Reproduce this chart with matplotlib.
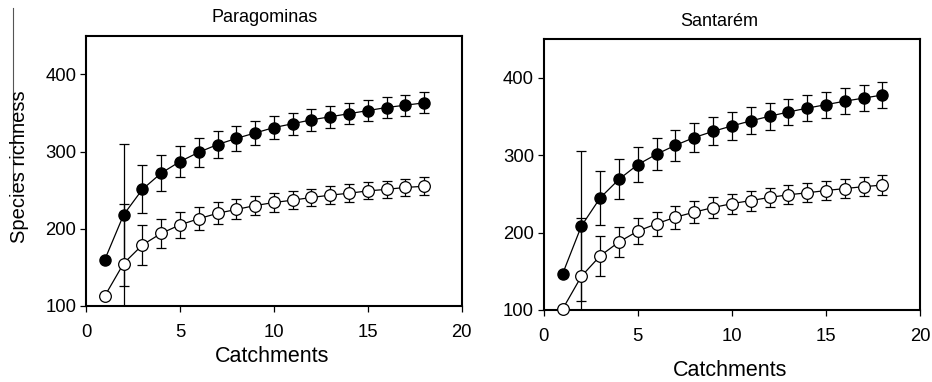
import matplotlib
matplotlib.use("Agg")
import matplotlib.pyplot as plt
from matplotlib.lines import Line2D

plt.rcParams['font.family'] = ['Liberation Sans', 'DejaVu Sans']

catchments = list(range(1, 19))

# Paragominas
par_filled = [160, 218, 251, 272, 287, 299, 309, 317, 324, 331, 336, 341, 345, 349, 353, 357, 360, 363]
par_filled_err = [0, 92, 31, 23, 20, 19, 17, 16.5, 15.5, 14.5, 14, 14, 14, 13.5, 13.5, 13, 13.5, 13.5]
par_open = [113, 155, 179, 194, 205, 213, 220, 225, 230, 234, 237, 240.5, 243.5, 246, 249, 251, 253.5, 255]
par_open_err = [0, 77, 26, 19, 17, 15, 14, 13, 12.5, 12, 12, 11.5, 11.5, 11.5, 11, 11, 11, 11.5]

# Santarém
san_filled = [146.5, 208.5, 245, 269, 288, 301.5, 313, 323, 331, 338, 344.5, 350.5, 356, 361, 365.5, 370, 374, 378]
san_filled_err = [0, 97, 35, 26, 22.5, 21, 20, 19, 18, 18.5, 17.5, 17.5, 17, 17, 17, 17, 17, 17]
san_open = [101, 143.5, 170, 188, 202, 211.5, 220, 226.5, 232.5, 237.5, 241.5, 245.5, 249, 251.5, 254.5, 257, 259.5, 261.5]
san_open_err = [0, 76, 26, 19.5, 17, 15.7, 15, 14.4, 13.8, 13, 13, 12.5, 12.5, 12.5, 12.3, 12.3, 12.5, 12.5]

x_ticks = [0, 5, 10, 15, 20]
y_ticks = [100, 200, 300, 400]

fig = plt.figure(figsize=(9.32, 3.82), dpi=100)
ax1 = fig.add_axes([0.0923, 0.199, 0.4031, 0.7076])
ax2 = fig.add_axes([0.5834, 0.1885, 0.4038, 0.7086])


def draw_panel(ax, filled, filled_err, opened, opened_err):
    for vals, errs in ((filled, filled_err), (opened, opened_err)):
        xs = [c for c, e in zip(catchments, errs) if e > 0]
        ys = [v for v, e in zip(vals, errs) if e > 0]
        es = [e for e in errs if e > 0]
        ax.errorbar(xs, ys, yerr=es, fmt='none', ecolor='black',
                    elinewidth=0.9, capsize=3.8, capthick=0.9, zorder=2)
    ax.plot(catchments, filled, '-o', color='black', lw=0.9,
            markersize=8, markerfacecolor='black', markeredgecolor='black',
            zorder=3, clip_on=False)
    ax.plot(catchments, opened, '-o', color='black', lw=0.9,
            markersize=8.4, markerfacecolor='white', markeredgecolor='black',
            markeredgewidth=0.9, zorder=3, clip_on=False)
    ax.set_xlim(0, 20)
    ax.set_ylim(100, 450)
    ax.set_xticks(x_ticks)
    ax.set_yticks(y_ticks)
    ax.tick_params(direction='out', length=4, width=0.9, labelsize=13.3)
    ax.tick_params(axis='x', pad=9)
    ax.tick_params(axis='y', pad=3)
    for sp in ax.spines.values():
        sp.set_linewidth(1.5)


draw_panel(ax1, par_filled, par_filled_err, par_open, par_open_err)
draw_panel(ax2, san_filled, san_filled_err, san_open, san_open_err)

fig.text(265 / 932, 1 - 17 / 382, 'Paragominas', ha='center', va='center', fontsize=13)
fig.text(719 / 932, 1 - 21 / 382, 'Santarém', ha='center', va='center', fontsize=13)
fig.text(20 / 932, 1 - 167 / 382, 'Species richness', rotation=90,
         ha='center', va='center', fontsize=14.5)
fig.text(272 / 932, 1 - 357 / 382, 'Catchments', ha='center', va='center', fontsize=15.5)
fig.text(730 / 932, 1 - 370 / 382, 'Catchments', ha='center', va='center', fontsize=15.5)

# thin rule beside the y-axis label
fig.add_artist(Line2D([12.5 / 932, 12.5 / 932], [1 - 7.5 / 382, 1 - 192 / 382],
                      transform=fig.transFigure, color='#555555', lw=0.8))

fig.savefig('out.png', dpi=100)
